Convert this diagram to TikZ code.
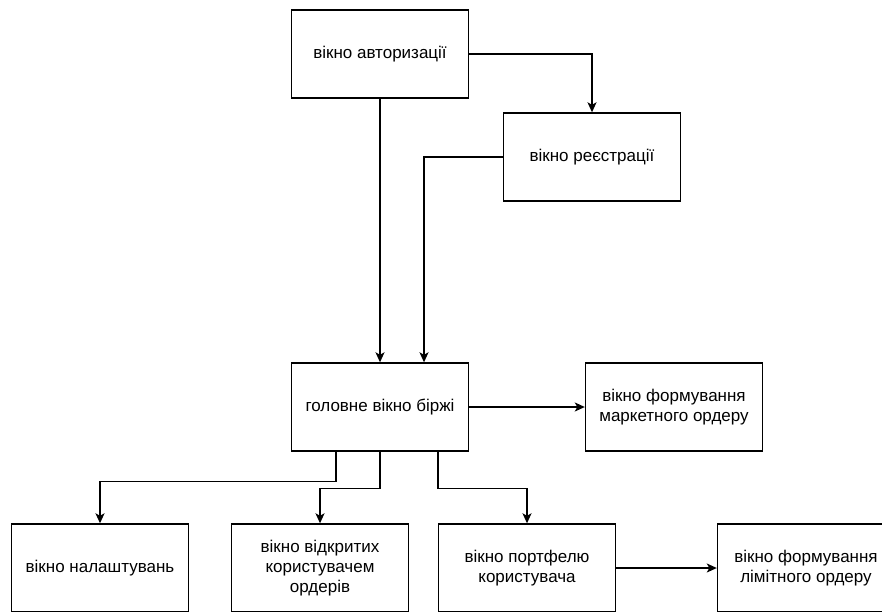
\documentclass[tikz,border=0pt]{standalone}
\usepackage{fontspec}
\setmainfont{Liberation Sans}
\usetikzlibrary{arrows.meta}
\begin{document}
\begin{tikzpicture}[x=1pt,y=-1pt,
  win/.style={draw,line width=1.4pt,minimum width=177pt,minimum height=88pt,
    inner sep=0pt,align=center,font=\fontsize{17}{20}\selectfont},
  link/.style={line width=1.4pt,-{Stealth[length=10pt,width=9pt,inset=2.5pt]}}]
\useasboundingbox (0,0) rectangle (882,612);
\clip (0,0) rectangle (882,612);
% windows
\node[win] (auth) at (380,54) {вікно авторизації};
\node[win] (reg) at (592,157) {вікно реєстрації};
\node[win] (main) at (380,407) {головне вікно біржі};
\node[win] (market) at (674,407) {вікно формування\\маркетного ордеру};
\node[win] (settings) at (100,568) {вікно налаштувань};
\node[win] (orders) at (320,568) {вікно відкритих\\користувачем\\ордерів};
\node[win] (portfolio) at (527,568) {вікно портфелю\\користувача};
\node[win] (limit) at (806,568) {вікно формування\\лімітного ордеру};
% transitions
\draw[link] (auth.east) -| (reg.north);
\draw[link] (auth.south) -- (main.north);
\draw[link] (reg.west) -| ([xshift=44pt]main.north);
\draw[link] (main.east) -- (market.west);
\draw[link] ([xshift=-44pt]main.south) -- ++(0,30) -| (settings.north);
\draw[link] (main.south) -- ++(0,37) -| (orders.north);
\draw[link] ([xshift=58pt]main.south) -- ++(0,37) -| (portfolio.north);
\draw[link] (portfolio.east) -- (limit.west);
\end{tikzpicture}
\end{document}
